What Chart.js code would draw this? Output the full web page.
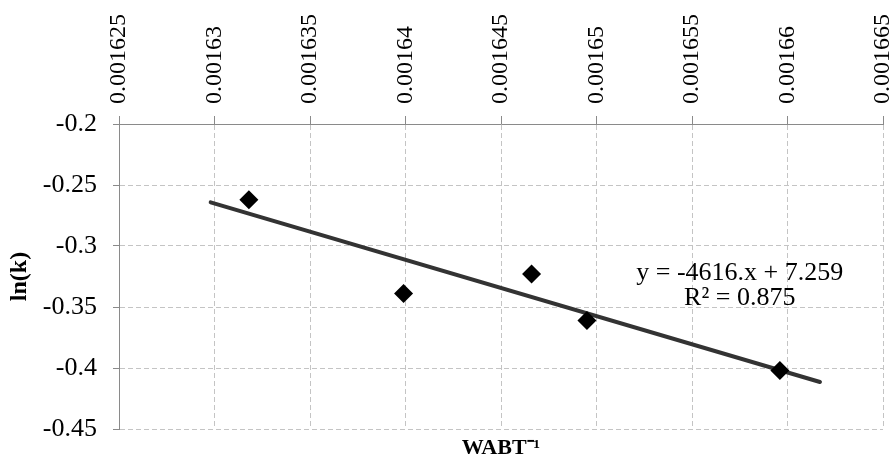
<!DOCTYPE html>
<html><head><meta charset="utf-8">
<script src="https://cdn.jsdelivr.net/npm/chart.js@4"></script>
<style>html,body{margin:0;padding:0;background:#fff}canvas{display:block}</style>
</head><body>
<canvas id="c" width="895" height="455"></canvas>
<script>
// Data
const xValues = [0.0016318, 0.0016399, 0.0016466, 0.0016495, 0.0016596];
const yValues = [-0.262, -0.339, -0.323, -0.361, -0.402];
const trendX = [0.0016298, 0.0016617];
const trendY = [-0.2642, -0.4115];
const xTickValues = [0.001625, 0.00163, 0.001635, 0.00164, 0.001645, 0.00165, 0.001655, 0.00166, 0.001665];
const xTickLabels = ['0.001625', '0.00163', '0.001635', '0.00164', '0.001645', '0.00165', '0.001655', '0.00166', '0.001665'];
const yTickValues = [-0.45, -0.4, -0.35, -0.3, -0.25, -0.2];
const yTickLabels = ['-0.45', '-0.4', '-0.35', '-0.3', '-0.25', '-0.2'];
const equationLines = ['y = -4616.x + 7.259', 'R\u00B2 = 0.875'];
const xTitle = 'WABT\u207B\u00B9';
const yTitle = 'ln(k)';

const SERIF = '"Liberation Serif", "Times New Roman", serif';
const AXIS = '#8a8a8a';
const GRID = '#c4c4c4';

const pointData = xValues.map((x, i) => ({x, y: yValues[i]}));
const trendData = trendX.map((x, i) => ({x, y: trendY[i]}));

const equationPlugin = {
  id: 'equation',
  afterDatasetsDraw(chart) {
    const {ctx, scales} = chart;
    const cx = scales.x.getPixelForValue(0.0016575);
    const y1 = scales.y.getPixelForValue(-0.3222);
    const y2 = scales.y.getPixelForValue(-0.3427);
    ctx.save();
    ctx.fillStyle = '#000';
    ctx.font = '26px ' + SERIF;
    ctx.textAlign = 'center';
    ctx.textBaseline = 'middle';
    ctx.fillText(equationLines[0], cx, y1);
    ctx.fillText(equationLines[1], cx, y2);
    ctx.restore();
  }
};

new Chart(document.getElementById('c'), {
  type: 'scatter',
  data: {
    datasets: [
      {
        data: pointData,
        pointStyle: 'rectRot',
        pointRadius: 9.5,
        pointHoverRadius: 9.5,
        backgroundColor: '#000',
        borderColor: '#000',
        borderWidth: 0,
        xAxisID: 'x', yAxisID: 'y'
      },
      {
        data: trendData,
        showLine: true,
        pointRadius: 0,
        borderColor: '#333333',
        borderWidth: 4,
        borderCapStyle: 'round',
        xAxisID: 'x', yAxisID: 'y'
      }
    ]
  },
  options: {
    responsive: false,
    animation: false,
    devicePixelRatio: 1,
    layout: {padding: {top: 0, right: 12, bottom: 0, left: 0}},
    plugins: {legend: {display: false}, tooltip: {enabled: false}},
    scales: {
      x: {
        type: 'linear',
        position: 'top',
        min: 0.001625, max: 0.001665,
        afterBuildTicks: s => { s.ticks = xTickValues.map(v => ({value: v})); },
        afterFit: s => { s.height = 124; s.paddingLeft = 0; s.paddingRight = 0; },
        ticks: {
          autoSkip: false, minRotation: 90, maxRotation: 90,
          padding: 12, labelOffset: 29, color: '#000',
          font: {family: SERIF, size: 24},
          callback: (v, i) => xTickLabels[i]
        },
        grid: {color: GRID, tickColor: AXIS, tickLength: 8, lineWidth: 1},
        border: {display: true, color: AXIS, width: 1, dash: [5, 3]}
      },
      x2: {
        type: 'linear', axis: 'x',
        position: 'bottom',
        min: 0.001625, max: 0.001665,
        ticks: {display: false},
        grid: {display: false, drawTicks: false},
        border: {display: false},
        afterFit: s => { s.height = 26; s.paddingLeft = 0; s.paddingRight = 0; },
        title: {
          display: true, text: xTitle, color: '#000',
          font: {family: SERIF, size: 22, weight: 'bold', lineHeight: 1.2},
          padding: {top: 0, bottom: -7}
        }
      },
      y: {
        type: 'linear',
        position: 'left',
        min: -0.45, max: -0.2,
        afterBuildTicks: s => { s.ticks = yTickValues.map(v => ({value: v})); },
        afterFit: s => { s.width = 119; s.paddingTop = 0; s.paddingBottom = 0; },
        ticks: {
          padding: 16, color: '#000',
          font: {family: SERIF, size: 26},
          callback: (v, i) => yTickLabels[i]
        },
        grid: {color: GRID, tickColor: AXIS, tickLength: 6, lineWidth: 1},
        border: {display: true, color: AXIS, width: 1, dash: [5, 3]},
        title: {
          display: true, text: yTitle, color: '#000',
          font: {family: SERIF, size: 24, weight: 'bold', lineHeight: 1.2},
          padding: {top: 5, bottom: 0}
        }
      }
    }
  },
  plugins: [equationPlugin]
});
</script>
</body></html>
